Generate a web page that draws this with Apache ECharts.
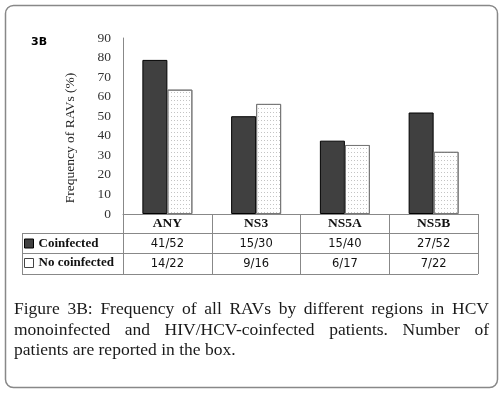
<!DOCTYPE html>
<html>
<head>
<meta charset="utf-8">
<script src="https://cdn.jsdelivr.net/npm/echarts@6/dist/echarts.min.js"></script>
<style>
  html, body { margin: 0; padding: 0; background: #fff; }
  #chart { width: 502px; height: 393px; }
</style>
</head>
<body>
<div id="chart"></div>
<script>
// data
const regions = ["ANY", "NS3", "NS5A", "NS5B"];
const coinfected = [78.8, 50.0, 37.5, 51.9];     // % of patients with RAVs
const noCoinfected = [63.6, 56.3, 35.3, 31.8];
const coinfectedCounts = ["41/52", "15/30", "15/40", "27/52"];
const noCoinfectedCounts = ["14/22", "9/16", "6/17", "7/22"];
const yTicks = [0, 90, 10]; // min, max, step

const captionLines = [
  "Figure 3B: Frequency of all RAVs by different regions in HCV",
  "monoinfected and HIV/HCV-coinfected patients. Number of",
  "patients are reported in the box."
];

const serif = '"Liberation Serif", "Times New Roman", serif';
const sans = '"DejaVu Sans", Tahoma, sans-serif';

// justify caption lines by hand (ECharts text has no justify)
const capFont = '17.5px ' + serif;
const capLeft = 14, capRight = 489, capTop = 309.5, capStep = 20.5;
const ctx = document.createElement("canvas").getContext("2d");
ctx.font = capFont;
const captionGraphics = [];
captionLines.forEach((line, i) => {
  const words = line.split(" ");
  const widths = words.map((w) => ctx.measureText(w).width);
  const total = widths.reduce((a, b) => a + b, 0);
  const last = i === captionLines.length - 1;
  const gap = last ? ctx.measureText(" ").width : (capRight - capLeft - total) / (words.length - 1);
  let x = capLeft;
  words.forEach((w, j) => {
    captionGraphics.push({
      type: "text", x: x, y: capTop + i * capStep, silent: true,
      style: { text: w, font: capFont, fill: "#1a1a1a", textVerticalAlign: "middle" }
    });
    x += widths[j] + gap;
  });
});

const tableLine = (x1, y1, x2, y2) => ({
  type: "line", silent: true,
  shape: { x1: x1, y1: y1, x2: x2, y2: y2 },
  style: { stroke: "#888", lineWidth: 1 }
});

const chart = echarts.init(document.getElementById("chart"));

chart.setOption({
  animation: false,
  grid: { left: 123, right: 24, top: 38, bottom: 179, containLabel: false },
  legend: {
    orient: "vertical",
    left: 24, top: 237,
    padding: 0,
    itemWidth: 9, itemHeight: 9, itemGap: 6.5,
    selectedMode: false,
    textStyle: { fontFamily: serif, fontWeight: "bold", fontSize: 13, color: "#111" },
    data: [
      { name: "Coinfected", icon: "rect", itemStyle: { color: "#404040", borderColor: "#000", borderWidth: 1, decal: "none" } },
      { name: "No coinfected", icon: "rect", itemStyle: { color: "#fff", borderColor: "#444", borderWidth: 1, decal: "none" } }
    ]
  },
  xAxis: {
    type: "category",
    data: regions,
    axisLine: { lineStyle: { color: "#888", width: 1 } },
    axisTick: { show: true, interval: 0, length: 60, lineStyle: { color: "#888" } },
    axisLabel: {
      interval: 0,
      margin: 0,
      formatter: (v, i) => "{h|" + v + "}\n{v|" + coinfectedCounts[i] + "}\n{v|" + noCoinfectedCounts[i] + "}",
      rich: {
        h: { fontFamily: serif, fontWeight: "bold", fontSize: 13.5, color: "#111", lineHeight: 20 },
        v: { fontFamily: sans, fontSize: 11.5, color: "#111", lineHeight: 20 }
      }
    }
  },
  yAxis: {
    type: "value",
    min: yTicks[0], max: yTicks[1], interval: yTicks[2],
    name: "Frequency of RAVs (%)",
    nameLocation: "middle",
    nameGap: 46,
    nameTextStyle: { fontFamily: serif, fontSize: 13.5, color: "#222", padding: [0, 24, 0, 0] },
    axisLine: { show: true, lineStyle: { color: "#888", width: 1 } },
    axisTick: { show: false },
    splitLine: { show: false },
    axisLabel: { fontFamily: serif, fontSize: 13.5, color: "#333", margin: 12 }
  },
  series: [
    {
      name: "Coinfected",
      type: "bar",
      data: coinfected,
      barWidth: 25,
      barGap: "0%",
      itemStyle: { color: "#404040", borderColor: "#000", borderWidth: 1 }
    },
    {
      name: "No coinfected",
      type: "bar",
      data: noCoinfected,
      barWidth: 25,
      itemStyle: {
        color: "#fff", borderColor: "#777", borderWidth: 1,
        decal: { symbol: "rect", symbolSize: 1, color: "#c4c4c4", dashArrayX: [1, 2], dashArrayY: [1, 3] }
      }
    }
  ],
  graphic: [
    {
      type: "rect", silent: true,
      shape: { x: 5.5, y: 5.5, width: 492, height: 382, r: 8 },
      style: { fill: "none", stroke: "#888", lineWidth: 1.5 }
    },
    {
      type: "text", x: 31, y: 42, silent: true,
      style: { text: "3B", font: "bold 11px " + sans, fill: "#000", textVerticalAlign: "middle" }
    },
    tableLine(22, 233.5, 478, 233.5),
    tableLine(22, 253.5, 478, 253.5),
    tableLine(22, 274.5, 478, 274.5),
    tableLine(22.5, 233.5, 22.5, 274.5)
  ].concat(captionGraphics)
});
</script>
</body>
</html>
